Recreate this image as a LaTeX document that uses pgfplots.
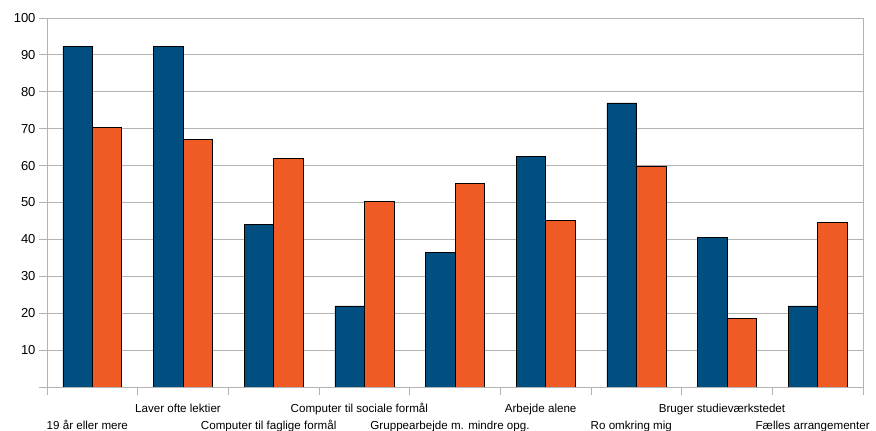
\documentclass[border=0pt]{standalone}
\usepackage{fontspec}
\setmainfont{Liberation Sans}
\usepackage{pgfplots}
\pgfplotsset{compat=1.18}
\definecolor{bblue}{HTML}{004F80}
\definecolor{borange}{HTML}{F05A24}
\definecolor{gridgray}{HTML}{B3B3B3}
\begin{document}
\begin{tikzpicture}
\begin{axis}[
  scale only axis, width=816pt, height=369pt,
  xmin=-0.5, xmax=8.5, ymin=0, ymax=100,
  ytick={0,10,...,100},
  yticklabels={,10,20,30,40,50,60,70,80,90,100},
  ymajorgrids,
  major grid style={gridgray, line width=0.8pt},
  axis line style={gridgray, line width=0.8pt},
  tick align=outside,
  major tick length=8pt, minor tick length=8pt,
  ytick pos=left, xtick pos=bottom,
  major y tick style={gridgray, line width=0.8pt},
  xtick={0,...,8},
  major x tick style={draw=none},
  minor xtick={-0.5,0.5,...,8.5},
  minor x tick style={gridgray, line width=0.8pt},
  /pgf/number format/assume math mode=true,
  yticklabel style={font=\fontsize{13}{15}\selectfont, text=black},
  xticklabel style={font=\fontsize{11.6}{17}\selectfont, align=center, xshift=-5pt, yshift=-2pt, text=black},
  xticklabels={{\strut\\19 år eller mere},{\strut Laver ofte lektier},{\strut\\Computer til faglige formål},{\strut Computer til sociale formål},{\strut\\Gruppearbejde m. mindre opg.},{\strut Arbejde alene},{\strut\\Ro omkring mig},{\strut Bruger studieværkstedet},{\strut\\Fælles arrangementer}},
]
\addplot[ybar, bar width=0.325, bar shift=-0.1625, fill=bblue, draw=black, line width=0.6pt]
  coordinates {(0,92.4) (1,92.4) (2,44.1) (3,22.0) (4,36.5) (5,62.5) (6,77.0) (7,40.5) (8,22.0)};
\addplot[ybar, bar width=0.325, bar shift=0.1625, fill=borange, draw=black, line width=0.6pt]
  coordinates {(0,70.4) (1,67.2) (2,61.9) (3,50.4) (4,55.1) (5,45.1) (6,59.9) (7,18.6) (8,44.5)};
\end{axis}
\pgfresetboundingbox
\path[use as bounding box] (-47pt,-44pt) rectangle (829pt,387pt);
\end{tikzpicture}
\end{document}
